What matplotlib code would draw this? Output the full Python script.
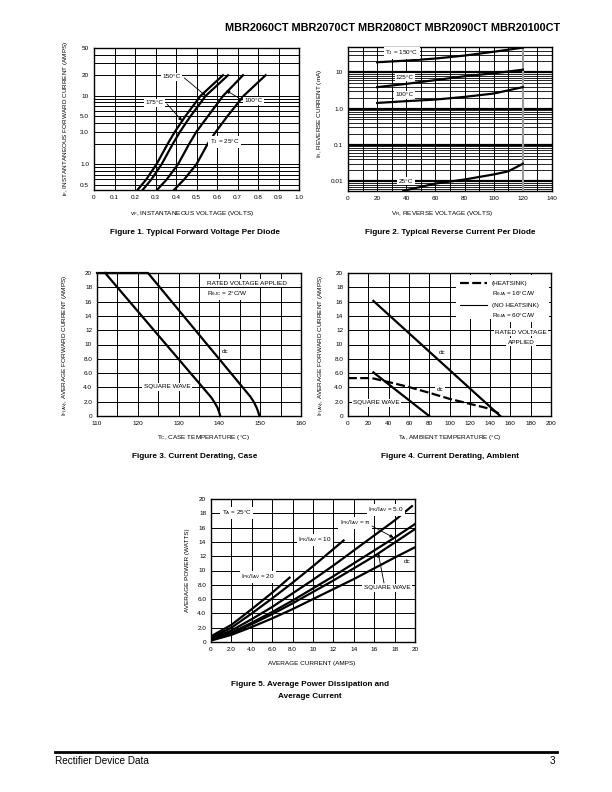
import numpy as np
import matplotlib
matplotlib.use('Agg')
import matplotlib.pyplot as plt
from matplotlib.lines import Line2D
from matplotlib.ticker import LogLocator, NullFormatter

plt.rcParams['font.family'] = ['Liberation Sans', 'DejaVu Sans']
plt.rcParams['mathtext.default'] = 'regular'

# ---- Figure 1: forward voltage (volts) vs forward current (amps)
f1_cur = [0.42, 0.6, 1.0, 2.0, 3.0, 5.0, 10, 20]
f1_v25 = [0.39, 0.44, 0.50, 0.555, 0.595, 0.65, 0.73, 0.837]
f1_v100 = [0.307, 0.355, 0.41, 0.465, 0.50, 0.555, 0.63, 0.727]
f1_v150 = [0.237, 0.28, 0.33, 0.385, 0.42, 0.47, 0.545, 0.654]
f1_v175 = [0.212, 0.255, 0.305, 0.36, 0.395, 0.445, 0.52, 0.629]
f1_yticks = [0.5, 1.0, 3.0, 5.0, 10, 20, 50]
f1_ylabels = ['0.5', '1.0', '3.0', '5.0', '10', '20', '50']

# ---- Figure 2: reverse voltage vs reverse current (mA)
f2_volt = [20, 40, 60, 80, 100, 120]
f2_i150 = [19, 21, 24, 29, 37, 48]
f2_i125 = [3.9, 4.8, 6.1, 7.8, 9.4, 11.8]
f2_i100 = [1.43, 1.6, 1.77, 2.1, 2.6, 3.9]
f2_volt25 = [38, 40, 60, 80, 100, 110, 120]
f2_i25 = [0.0053, 0.0056, 0.0085, 0.011, 0.0152, 0.0185, 0.03]

# ---- Figure 3: case temperature derating
f3_sq_t = [112, 138.0, 138.8, 139.5, 139.9, 140.1, 140.2]
f3_sq_i = [20, 2.6, 1.9, 1.2, 0.6, 0.2, 0]
f3_dc_t = [110, 122.5, 147.6, 148.4, 149.1, 149.5, 149.7, 149.8]
f3_dc_i = [20, 20, 2.7, 2.0, 1.2, 0.6, 0.2, 0]

# ---- Figure 4: ambient temperature derating
f4_dc_t = [25, 150]
f4_dc_i = [16.1, 0]
f4_sq_t = [25, 80]
f4_sq_i = [6.1, 0]
f4_hs_t = [0, 22, 25, 40, 60, 80, 100, 120, 140, 148, 150]
f4_hs_i = [5.3, 5.3, 5.25, 4.75, 4.05, 3.25, 2.4, 1.7, 1.0, 0.4, 0]

# ---- Figure 5: average power vs average current
f5_cur = [0, 2, 4, 6, 8, 10, 12, 14, 16, 18, 20]
f5_dc = [0.2, 1.0, 2.1, 3.3, 4.6, 6.0, 7.4, 8.8, 10.3, 11.8, 13.25]
f5_sq = [0.3, 1.2, 2.5, 3.9, 5.4, 7.0, 8.6, 10.3, 12.0, 13.9, 15.8]
f5_pi = [0.4, 1.3, 2.7, 4.2, 5.8, 7.5, 9.2, 11.0, 12.8, 14.6, 16.5]
f5_cur5 = [0, 2, 4, 6, 8, 10, 12, 14, 16, 18, 19.7]
f5_r5 = [0.5, 1.6, 3.2, 4.9, 6.8, 8.7, 10.7, 12.8, 14.9, 17.0, 19.0]
f5_cur10 = [0, 2, 4, 6, 8, 10, 12, 13]
f5_r10 = [0.6, 2.0, 4.0, 6.1, 8.3, 10.6, 13.0, 14.2]
f5_cur20 = [0, 2, 4, 6, 7.7]
f5_r20 = [0.8, 2.4, 4.6, 6.9, 9.0]

lin_labels = ['0', '2.0', '4.0', '6.0', '8.0', '10', '12', '14', '16', '18', '20']

W, H = 612, 792
fig = plt.figure(figsize=(W / 100, H / 100), dpi=100)
FS = 4.6
LW = 1.6


def add_ax(x0, y0, x1, y1):
    return fig.add_axes([x0 / W, 1 - y1 / H, (x1 - x0) / W, (y1 - y0) / H])


def base(ax):
    ax.tick_params(which='both', length=0, labelsize=FS, pad=3.5)
    for s in ax.spines.values():
        s.set_linewidth(1.0)
    ax.set_axisbelow(True)


def grid(ax, lw_major=0.7, lw_minor=0.7):
    ax.grid(True, which='major', color='k', lw=lw_major)
    ax.grid(True, which='minor', color='k', lw=lw_minor)


def tag(ax, x, y, s, ha='center'):
    ax.text(x, y, s, transform=ax.transAxes, fontsize=FS, ha=ha, va='center',
            bbox=dict(fc='white', ec='none', pad=1.0), zorder=6)


def arrow(ax, tip, tail):
    ax.annotate('', xy=tip, xycoords='data', xytext=tail, textcoords='axes fraction',
                arrowprops=dict(arrowstyle='-|>', lw=0.6, color='k', mutation_scale=5,
                                shrinkA=0, shrinkB=0), zorder=7)


def ftext(x, y, s, **kw):
    fig.text(x / W, 1 - y / H, s, **kw)


# header / footer
ftext(560, 28, 'MBR2060CT MBR2070CT MBR2080CT MBR2090CT MBR20100CT', fontsize=7.8,
      fontweight='bold', ha='right', va='center')
fig.add_artist(Line2D([55 / W, 557 / W], [1 - 752 / H] * 2, lw=2.0, color='k'))
ftext(55, 761, 'Rectifier Device Data', fontsize=7.2, ha='left', va='center')
ftext(555, 761, '3', fontsize=7.2, ha='right', va='center')

# ---------------- Figure 1
ax1 = add_ax(94, 48, 299, 190)
base(ax1)
ax1.set_yscale('log')
ax1.set_xlim(0, 1.0)
ax1.set_ylim(0.42, 50)
ax1.set_xticks(np.arange(0, 1.01, 0.1))
ax1.set_xticklabels(['0', '0.1', '0.2', '0.3', '0.4', '0.5', '0.6', '0.7', '0.8', '0.9', '1.0'])
ax1.set_yticks(f1_yticks)
ax1.set_yticklabels(f1_ylabels)
ax1.yaxis.set_minor_locator(LogLocator(base=10, subs=np.arange(2, 10)))
ax1.yaxis.set_minor_formatter(NullFormatter())
grid(ax1)
for v in (f1_v25, f1_v100, f1_v150, f1_v175):
    ax1.plot(v, f1_cur, color='k', lw=LW, zorder=4)
tag(ax1, 0.38, 0.796, '150°C')
tag(ax1, 0.295, 0.613, '175°C')
tag(ax1, 0.78, 0.627, '100°C')
tag(ax1, 0.637, 0.338, 'T$_J$ = 25°C')
arrow(ax1, (0.545, 10), (0.44, 0.79))
arrow(ax1, (0.43, 4.3), (0.356, 0.606))
arrow(ax1, (0.645, 12), (0.722, 0.634))
ftext(192, 213, 'v$_F$, INSTANTANEOUS VOLTAGE (VOLTS)', fontsize=FS, ha='center', va='center')
ftext(66, 118, 'i$_F$, INSTANTANEOUS FORWARD CURRENT (AMPS)', fontsize=FS, ha='center',
      va='center', rotation=90)
ftext(195, 233, 'Figure 1. Typical Forward Voltage Per Diode', fontsize=5.9,
      fontweight='bold', ha='center', va='center')

# ---------------- Figure 2
ax2 = add_ax(348, 47, 552, 191)
base(ax2)
ax2.set_yscale('log')
ax2.set_xlim(0, 140)
ax2.set_ylim(0.0053, 50)
ax2.set_xticks(np.arange(0, 141, 20))
ax2.set_xticks(np.arange(0, 141, 10), minor=True)
ax2.set_yticks([0.01, 0.1, 1.0, 10])
ax2.set_yticklabels(['0.01', '0.1', '1.0', '10'])
ax2.yaxis.set_minor_locator(LogLocator(base=10, subs=np.arange(2, 10)))
ax2.yaxis.set_minor_formatter(NullFormatter())
ax2.grid(True, which='major', axis='y', color='k', lw=1.6)
ax2.grid(True, which='minor', axis='y', color='k', lw=0.6)
ax2.grid(True, which='both', axis='x', color='k', lw=0.7)
ax2.axvline(120, color='0.6', lw=1.5, zorder=3)
for i in (f2_i150, f2_i125, f2_i100):
    ax2.plot(f2_volt, i, color='k', lw=LW, zorder=4)
ax2.plot(f2_volt25, f2_i25, color='k', lw=LW, zorder=4)
tag(ax2, 0.265, 0.958, 'T$_J$ = 150°C')
tag(ax2, 0.279, 0.79, '125°C')
tag(ax2, 0.279, 0.667, '100°C')
tag(ax2, 0.284, 0.069, '25°C')
ftext(442, 213, 'V$_R$, REVERSE VOLTAGE (VOLTS)', fontsize=FS, ha='center', va='center')
ftext(320, 113, 'I$_R$, REVERSE CURRENT (mA)', fontsize=FS, ha='center', va='center',
      rotation=90)
ftext(450, 233, 'Figure 2. Typical Reverse Current Per Diode', fontsize=5.9,
      fontweight='bold', ha='center', va='center')

# ---------------- Figure 3
ax3 = add_ax(97, 273, 301, 416)
base(ax3)
ax3.set_xlim(110, 160)
ax3.set_ylim(0, 20)
ax3.set_xticks(np.arange(110, 161, 10))
ax3.set_xticks(np.arange(110, 161, 5), minor=True)
ax3.set_yticks(np.arange(0, 21, 2))
ax3.set_yticklabels(lin_labels)
grid(ax3)
ax3.plot(f3_sq_t, f3_sq_i, color='k', lw=LW, zorder=4, clip_on=False)
ax3.plot(f3_dc_t, f3_dc_i, color='k', lw=LW, zorder=4, clip_on=False)
tag(ax3, 0.54, 0.93, 'RATED VOLTAGE APPLIED', ha='left')
tag(ax3, 0.54, 0.853, 'R$_{\\theta JC}$ = 2°C/W', ha='left')
tag(ax3, 0.627, 0.448, 'dc')
tag(ax3, 0.343, 0.203, 'SQUARE WAVE')
ftext(203, 438, 'T$_C$, CASE TEMPERATURE (°C)', fontsize=FS, ha='center', va='center')
ftext(66, 345, 'I$_{F(AV)}$, AVERAGE FORWARD CURRENT (AMPS)', fontsize=FS, ha='center',
      va='center', rotation=90)
ftext(195, 457, 'Figure 3. Current Derating, Case', fontsize=5.9,
      fontweight='bold', ha='center', va='center')

# ---------------- Figure 4
ax4 = add_ax(348, 273, 551, 416)
base(ax4)
ax4.set_xlim(0, 200)
ax4.set_ylim(0, 20)
ax4.set_xticks(np.arange(0, 201, 20))
ax4.set_yticks(np.arange(0, 21, 2))
ax4.set_yticklabels(lin_labels)
grid(ax4)
ax4.plot(f4_dc_t, f4_dc_i, color='k', lw=LW, zorder=4)
ax4.plot(f4_sq_t, f4_sq_i, color='k', lw=LW, zorder=4)
ax4.plot(f4_hs_t, f4_hs_i, color='k', lw=LW, ls=(0, (4, 1.5)), zorder=4)
ax4.add_patch(plt.Rectangle((0.53, 0.675), 0.46, 0.31, transform=ax4.transAxes,
                            fc='white', ec='none', zorder=3))
ax4.plot([0.552, 0.685], [0.93, 0.93], transform=ax4.transAxes, color='k', lw=LW,
         ls=(0, (4, 1.5)), zorder=6)
ax4.plot([0.552, 0.685], [0.776, 0.776], transform=ax4.transAxes, color='k', lw=0.8,
         zorder=6)
tag(ax4, 0.709, 0.93, '(HEATSINK)', ha='left')
tag(ax4, 0.709, 0.853, 'R$_{\\theta JA}$ = 16°C/W', ha='left')
tag(ax4, 0.709, 0.776, '(NO HEATSINK)', ha='left')
tag(ax4, 0.709, 0.699, 'R$_{\\theta JA}$ = 60°C/W', ha='left')
tag(ax4, 0.852, 0.587, 'RATED VOLTAGE')
tag(ax4, 0.852, 0.517, 'APPLIED')
tag(ax4, 0.461, 0.445, 'dc')
tag(ax4, 0.453, 0.187, 'dc')
tag(ax4, 0.141, 0.093, 'SQUARE WAVE')
ftext(450, 438, 'T$_A$, AMBIENT TEMPERATURE (°C)', fontsize=FS, ha='center', va='center')
ftext(322, 345, 'I$_{F(AV)}$, AVERAGE FORWARD CURRENT (AMPS)', fontsize=FS, ha='center',
      va='center', rotation=90)
ftext(450, 457, 'Figure 4. Current Derating, Ambient', fontsize=5.9,
      fontweight='bold', ha='center', va='center')

# ---------------- Figure 5
ax5 = add_ax(211, 499, 415, 642)
base(ax5)
ax5.set_xlim(0, 20)
ax5.set_ylim(0, 20)
ax5.set_xticks(np.arange(0, 21, 2))
ax5.set_xticklabels(lin_labels)
ax5.set_yticks(np.arange(0, 21, 2))
ax5.set_yticklabels(lin_labels)
grid(ax5)
ax5.plot(f5_cur, f5_dc, color='k', lw=LW, zorder=4)
ax5.plot(f5_cur, f5_sq, color='k', lw=LW, zorder=4)
ax5.plot(f5_cur, f5_pi, color='k', lw=LW, zorder=4)
ax5.plot(f5_cur5, f5_r5, color='k', lw=LW, zorder=4)
ax5.plot(f5_cur10, f5_r10, color='k', lw=LW, zorder=4)
ax5.plot(f5_cur20, f5_r20, color='k', lw=LW, zorder=4)
tag(ax5, 0.127, 0.902, 'T$_A$ = 25°C')
tag(ax5, 0.858, 0.923, 'I$_{PK}$/I$_{AV}$ = 5.0')
tag(ax5, 0.706, 0.832, 'I$_{PK}$/I$_{AV}$ = π')
tag(ax5, 0.51, 0.713, 'I$_{PK}$/I$_{AV}$ = 10')
tag(ax5, 0.23, 0.455, 'I$_{PK}$/I$_{AV}$ = 20')
tag(ax5, 0.96, 0.566, 'dc')
tag(ax5, 0.863, 0.378, 'SQUARE WAVE')
arrow(ax5, (17.9, 14.6), (0.789, 0.811))
arrow(ax5, (16.4, 12.4), (0.848, 0.413))
ftext(312, 664, 'AVERAGE CURRENT (AMPS)', fontsize=FS, ha='center', va='center')
ftext(188, 570, 'AVERAGE POWER (WATTS)', fontsize=FS, ha='center', va='center', rotation=90)
ftext(310, 684, 'Figure 5. Average Power Dissipation and', fontsize=5.9,
      fontweight='bold', ha='center', va='center')
ftext(310, 696, 'Average Current', fontsize=5.9, fontweight='bold', ha='center', va='center')

fig.savefig('out.png', dpi=100)
